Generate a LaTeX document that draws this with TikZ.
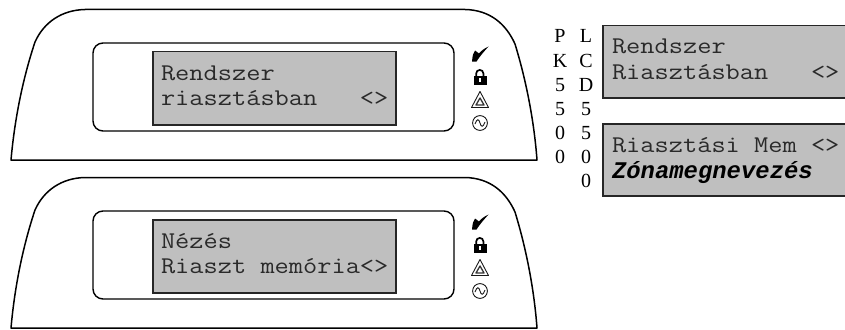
\documentclass[tikz,border=0pt]{standalone}
\usepackage{fontspec}
\setmainfont{Liberation Serif}
\setmonofont[FakeStretch=1.15]{Latin Modern Mono}
\newfontfamily\boldmono{Liberation Mono}
\definecolor{lcdgray}{HTML}{BFBFBF}
\definecolor{lcdtext}{HTML}{2A2A2A}
\tikzset{
  x=1pt,y=-1pt,
  shell/.style={draw=black,line width=1.5pt,line join=round},
  bezel/.style={draw=black,line width=1.4pt,rounded corners=10pt},
  lcd/.style={draw=black!85,line width=1.5pt,fill=lcdgray},
  lcdline/.style={anchor=base west,inner sep=0pt,outer sep=0pt,text=lcdtext,font=\fontsize{24}{24}\selectfont\ttfamily},
  lcdbold/.style={anchor=base west,inner sep=0pt,outer sep=0pt,text=black,font=\fontsize{23.9}{24}\selectfont\boldmono\bfseries\itshape},
  vert/.style={anchor=base,inner sep=0pt,outer sep=0pt,font=\fontsize{20}{20}\selectfont},
  keypad/.pic={
    \draw[shell] (11,160) .. controls (15,115) and (24,75) .. (35,42)
      .. controls (44,22) and (62,10) .. (85,9.5) -- (465,9.5)
      .. controls (490,10) and (506,24) .. (515,44)
      .. controls (526,80) and (534,120) .. (537,160) -- cycle;
    \draw[bezel] (93,43) rectangle (454,131);
    \fill (472,61.5) .. controls (472.5,56) and (473,53) .. (475,50.5) -- (479,53.5)
      .. controls (481,51) and (484,48.5) .. (488.5,46.5)
      .. controls (484.5,51) and (480,56) .. (476.5,61.5) -- cycle;
    \draw[line width=1.7pt] (476.2,76) -- (476.2,73.5) arc[start angle=180,end angle=360,radius=3.6] -- (483.4,76);
    \fill (473.5,75.5) rectangle (486.5,85);
    \fill[white] (479.2,77.5) rectangle (480.8,82);
    \draw[line width=.9pt,line join=round,draw=black!90] (480,91.5) -- (488.5,107.5) -- (471.5,107.5) -- cycle;
    \draw[line width=1.3pt,line join=round,draw=black!80] (480,98) -- (484,105) -- (476,105) -- cycle;
    \draw[line width=.9pt,draw=black!90] (480,123) circle[radius=7.4];
    \draw[line width=.9pt,draw=black!90] (475,124) .. controls (477,118) and (479,119) .. (480,123)
      .. controls (481,127) and (483,128) .. (485,122);
  }
}
\begin{document}
\begin{tikzpicture}
\useasboundingbox (0,0) rectangle (845,329);
\pic {keypad};
\pic[yshift=-168pt] {keypad};
\node[lcd,minimum width=243pt,minimum height=73pt,inner sep=0pt,anchor=north west] (lcdA) at (152,51) {};
\node[lcd,minimum width=243pt,minimum height=73pt,inner sep=0pt,anchor=north west] (lcdB) at (152,219) {};
\node[lcd,minimum width=243pt,minimum height=72pt,inner sep=0pt,anchor=north west] (lcdC) at (602,25) {};
\node[lcd,minimum width=243pt,minimum height=72pt,inner sep=0pt,anchor=north west] (lcdD) at (602,123) {};
\node[lcdline] (a1) at (161,80) {Rendszer};
\node[lcdline] (a2) at (161,105) {riasztásban~~~<>};
\node[lcdline] (b1) at (161,248) {Nézés};
\node[lcdline] (b2) at (161,273) {Riaszt memória<>};
\node[lcdline] (c1) at (612,53) {Rendszer};
\node[lcdline] (c2) at (612,79) {Riasztásban~~~<>};
\node[lcdline] (d1) at (612,152) {Riasztási Mem <>};
\node[lcdbold] (d2) at (612,178) {Zónamegnevezés};
\node[vert] (p1) at (560,43) {P};
\node[vert] (p2) at (560,67) {K};
\node[vert] (p3) at (560,91) {5};
\node[vert] (p4) at (560,115) {5};
\node[vert] (p5) at (560,139) {0};
\node[vert] (p6) at (560,163) {0};
\node[vert] (l1) at (586,43) {L};
\node[vert] (l2) at (586,67) {C};
\node[vert] (l3) at (586,91) {D};
\node[vert] (l4) at (586,115) {5};
\node[vert] (l5) at (586,139) {5};
\node[vert] (l6) at (586,163) {0};
\node[vert] (l7) at (586,187) {0};
\end{tikzpicture}
\end{document}
